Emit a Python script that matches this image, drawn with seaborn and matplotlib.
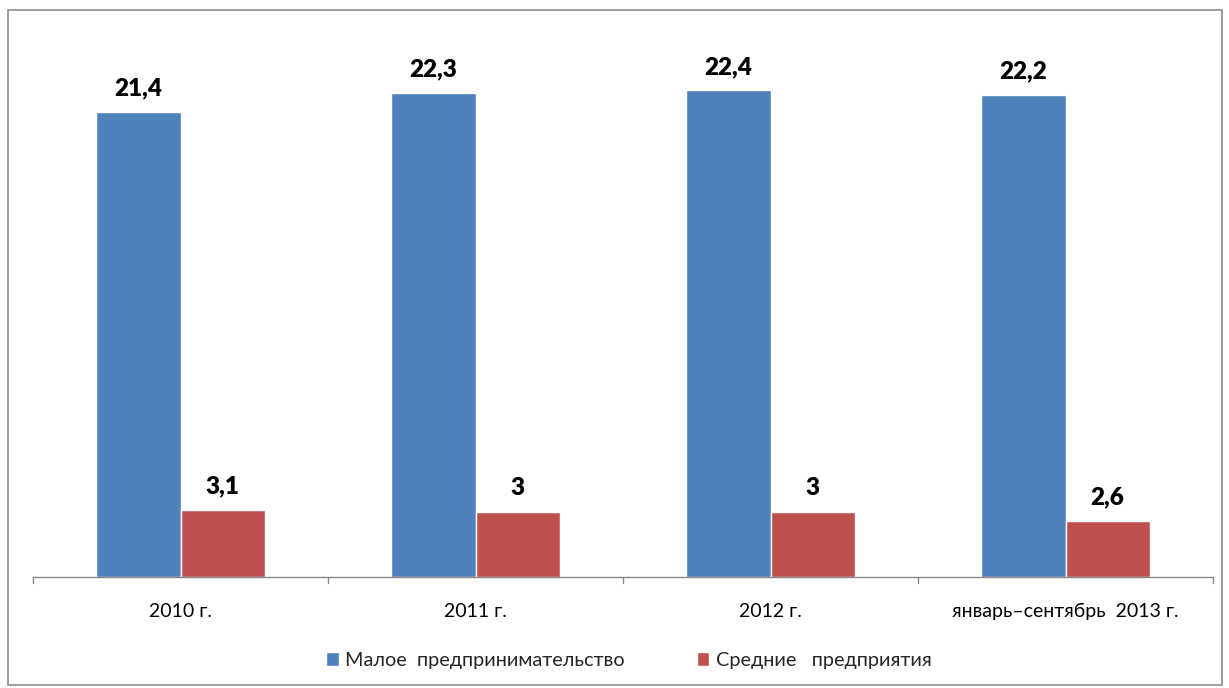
import matplotlib
matplotlib.use("Agg")
import matplotlib.pyplot as plt
import seaborn as sns
import pandas as pd
from matplotlib.patches import Rectangle

categories = ["2010 г.", "2011 г.", "2012 г.", "январь–сентябрь  2013 г."]
series_names = ["Малое  предпринимательство", "Средние   предприятия"]
small_values = [21.4, 22.3, 22.4, 22.2]
medium_values = [3.1, 3.0, 3.0, 2.6]
small_labels = ["21,4", "22,3", "22,4", "22,2"]
medium_labels = ["3,1", "3", "3", "2,6"]
colors = ["#4F81BD", "#C0504D"]

df = pd.DataFrame({
    "cat": categories * 2,
    "series": [series_names[0]] * 4 + [series_names[1]] * 4,
    "value": small_values + medium_values,
})

sns.set_theme(style="white")
plt.rcParams['font.family'] = ['Lato', 'DejaVu Sans']

fig = plt.figure(figsize=(12.29, 6.88), dpi=100)
ax = fig.add_axes([33/1229, 1-577/688, (1213-33)/1229, (577-34)/688])

sns.barplot(data=df, x="cat", y="value", hue="series", palette=colors,
            width=0.57, ax=ax, saturation=1, order=categories,
            hue_order=series_names, legend=True)

ax.set_ylim(0, 25)
ax.set_xlim(-0.5, 3.5)
ax.set_xlabel("")
ax.set_ylabel("")
ax.set_yticks([])
for s in ["top", "right", "left"]:
    ax.spines[s].set_visible(False)
ax.spines["bottom"].set_color("#868686")
ax.spines["bottom"].set_linewidth(1)

ax.set_xticks([0, 1, 2, 3])
ax.set_xticklabels(categories, fontsize=14, color="black")
ax.tick_params(axis="x", length=0, pad=19)
for b in [-0.5, 0.5, 1.5, 2.5, 3.5]:
    ax.plot([b, b], [0, -0.28], color="#868686", lw=1, clip_on=False)

for container, labels in zip(ax.containers, [small_labels, medium_labels]):
    ax.bar_label(container, labels=labels, padding=9, fontsize=17.5,
                 fontweight="heavy", color="black")

ax.legend(loc="upper center", bbox_to_anchor=(0.505, -0.105), ncol=2,
          frameon=False, fontsize=14.3, handlelength=0.65, handleheight=0.65,
          handletextpad=0.35, columnspacing=3.6)

fig.patches.append(Rectangle((8/1229, 1-685/688), (1222-8)/1229, (685-10)/688,
                             transform=fig.transFigure, fill=False,
                             edgecolor="#8C8C8C", lw=1.2))

fig.savefig("out.png", dpi=100, facecolor="white")
